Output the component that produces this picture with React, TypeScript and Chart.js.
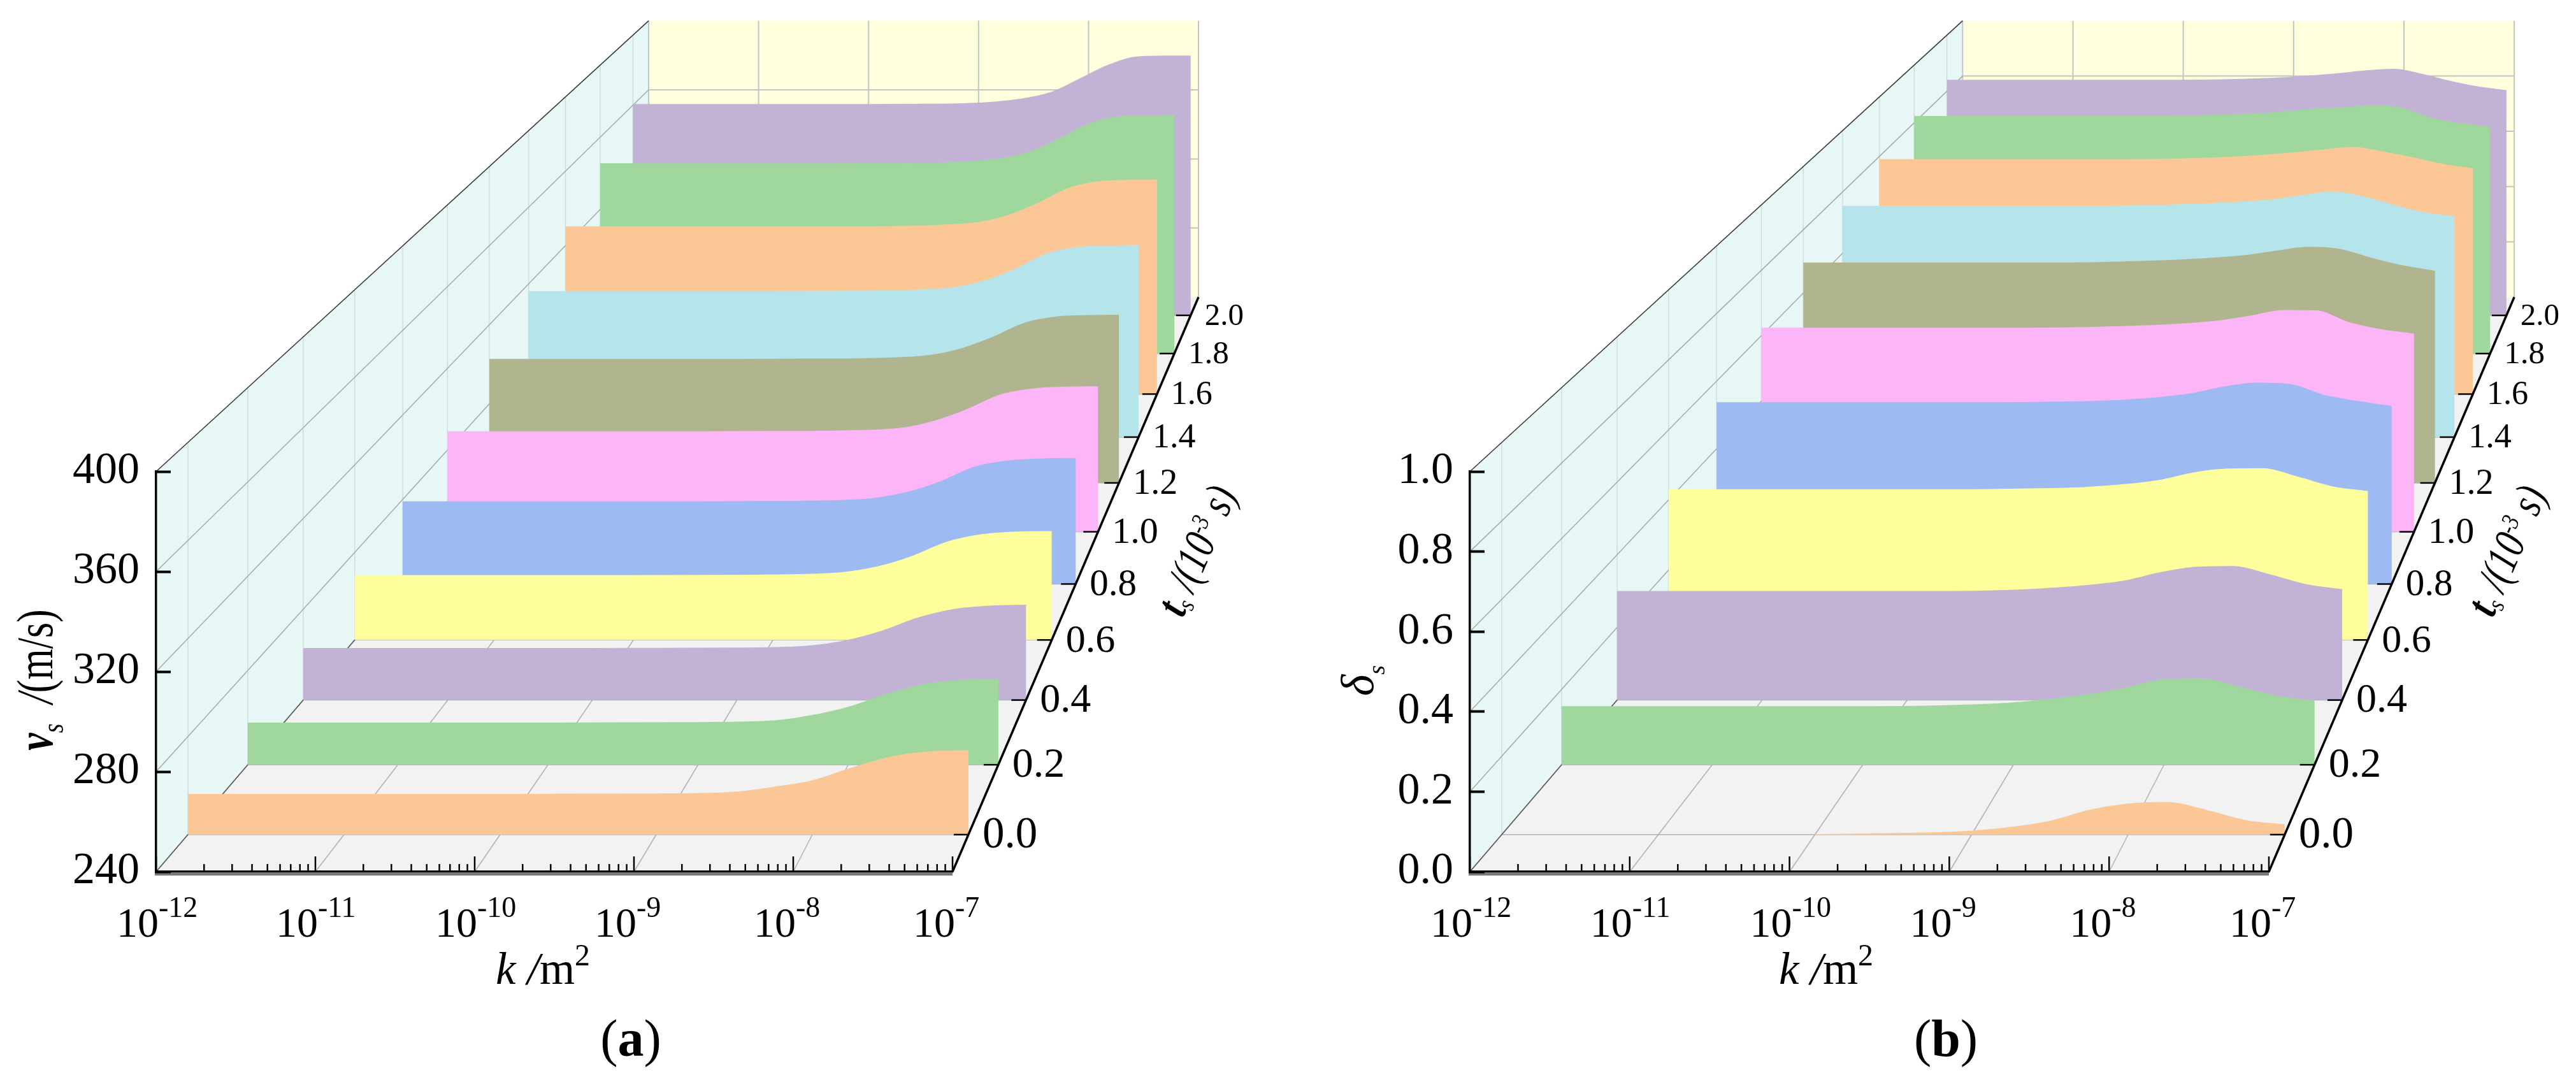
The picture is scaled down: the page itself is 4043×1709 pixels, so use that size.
import React, { useEffect, useRef } from "react";
import { Chart, registerables } from "chart.js";

Chart.register(...registerables);

const logK = [-12, -10, -9.5, -9, -8.5, -8.25, -8, -7.75, -7.5, -7.25, -7];
const depthT = [0, 0.2, 0.4, 0.6, 0.8, 1.0, 1.2, 1.4, 1.6, 1.8, 2.0];
const depthLabels = ["0.0", "0.2", "0.4", "0.6", "0.8", "1.0", "1.2", "1.4", "1.6", "1.8", "2.0"];
const decades = [-12, -11, -10, -9, -8, -7];
const decadeLabels = ["-12", "-11", "-10", "-9", "-8", "-7"];
const minorMultipliers = [2, 3, 4, 5, 6, 7, 8, 9];
const slabColors = ["#FBC797", "#9FD79C", "#C1B2D6", "#FEFE9D", "#9DBBF2", "#FCB5F7", "#B1B58F", "#B5E4EA", "#FBC797", "#9FD79C", "#C1B2D6"];

const vs00 = [256.4, 256.4, 256.5, 256.6, 257.3, 259.3, 262, 267.1, 271.6, 273.8, 274.3];
const vs02 = [257.7, 257.7, 257.8, 257.9, 258.6, 260.8, 264.4, 269.7, 274, 275.8, 276.2];
const vs04 = [262.7, 262.7, 262.8, 262.9, 263.8, 266.1, 270.3, 276.1, 279.9, 281.4, 281.8];
const vs06 = [269.4, 269.4, 269.5, 269.7, 270.8, 273.4, 278.2, 284.7, 288.1, 289.3, 289.5];
const vs08 = [278.9, 278.9, 279, 279.2, 280.5, 283.4, 288.5, 295.3, 298.2, 299.2, 299.4];
const vs10 = [289, 289, 289.1, 289.4, 290.8, 294.3, 300, 307, 309.9, 310.8, 311];
const vs12 = [302.5, 302.5, 302.6, 302.9, 304.5, 307.9, 313.7, 320.8, 323.9, 324.6, 324.8];
const vs14 = [316, 316, 316.1, 316.4, 318.2, 321.8, 328, 335.7, 339, 339.8, 340];
const vs16 = [330, 330, 330.1, 330.5, 332.5, 336.3, 342.9, 350.7, 354.3, 355.1, 355.3];
const vs18 = [345.3, 345.3, 345.4, 345.8, 348.2, 352, 359.2, 367.2, 371.2, 371.8, 372];
const vs20 = [360.4, 360.4, 360.5, 360.9, 363.7, 367.3, 374.8, 382.5, 387.4, 388, 388];

const ds00 = [null, 0, 0.003, 0.009, 0.034, 0.062, 0.078, 0.082, 0.062, 0.036, 0.025];
const ds02 = [0.154, 0.154, 0.156, 0.164, 0.186, 0.204, 0.226, 0.228, 0.205, 0.182, 0.169];
const ds04 = [0.299, 0.299, 0.3, 0.308, 0.328, 0.351, 0.366, 0.368, 0.345, 0.318, 0.304];
const ds06 = [0.429, 0.429, 0.431, 0.436, 0.455, 0.477, 0.488, 0.489, 0.465, 0.437, 0.424];
const ds08 = [0.536, 0.536, 0.538, 0.543, 0.562, 0.582, 0.594, 0.59, 0.558, 0.54, 0.525];
const ds10 = [0.623, 0.623, 0.625, 0.631, 0.645, 0.66, 0.677, 0.676, 0.64, 0.618, 0.605];
const ds12 = [0.695, 0.695, 0.698, 0.705, 0.719, 0.733, 0.745, 0.738, 0.71, 0.686, 0.669];
const ds14 = [0.753, 0.753, 0.756, 0.762, 0.774, 0.788, 0.8, 0.785, 0.757, 0.732, 0.72];
const ds16 = [0.789, 0.789, 0.791, 0.798, 0.812, 0.822, 0.83, 0.814, 0.795, 0.773, 0.759];
const ds18 = [0.822, 0.822, 0.825, 0.832, 0.848, 0.853, 0.86, 0.848, 0.815, 0.797, 0.784];
const ds20 = [0.839, 0.839, 0.841, 0.848, 0.863, 0.873, 0.878, 0.86, 0.835, 0.815, 0.802];

const velocitySeries = [vs00, vs02, vs04, vs06, vs08, vs10, vs12, vs14, vs16, vs18, vs20];
const deltaSeries = [ds00, ds02, ds04, ds06, ds08, ds10, ds12, ds14, ds16, ds18, ds20];
const velocityTicks = [240, 280, 320, 360, 400];
const deltaTicks = [0, 0.2, 0.4, 0.6, 0.8, 1.0];

const SERIF = '"Liberation Serif", "Times New Roman", serif';
const PAGE_H = 1709;
const FRONT_TOP = 740;
const FRONT_BOTTOM = 1368;
const PERSPECTIVE = 0.2038;
const T_MIN = -0.1;
const T_MAX = 2.1;

const scaleAt = (t: number) => 1 / (1 + PERSPECTIVE * (t - T_MIN));

type Panel = {
  id: string;
  left: number;
  width: number;
  frontLeft: number;
  frontRight: number;
  vanishLg: number;
  vanishVal: number;
  vMin: number;
  vMax: number;
  step: number;
  tickDigits: number;
  ticks: number[];
  series: (number | null)[][];
  draw: (ctx: CanvasRenderingContext2D) => void;
};

type Run = { text: string; font: string; dy?: number };

function drawRuns(ctx: CanvasRenderingContext2D, cx: number, cy: number, angle: number, runs: Run[], scaleY = 1) {
  ctx.save();
  ctx.translate(cx, cy);
  ctx.rotate(angle);
  ctx.scale(1, scaleY);
  ctx.textBaseline = "alphabetic";
  ctx.textAlign = "left";
  ctx.fillStyle = "#000";
  let total = 0;
  for (const r of runs) {
    ctx.font = r.font;
    total += ctx.measureText(r.text).width;
  }
  let x = -total / 2;
  for (const r of runs) {
    ctx.font = r.font;
    ctx.fillText(r.text, x, r.dy ?? 0);
    x += ctx.measureText(r.text).width;
  }
  ctx.restore();
}

function timeTitle(ctx: CanvasRenderingContext2D, cx: number, cy: number) {
  drawRuns(
    ctx,
    cx,
    cy,
    -1.16,
    [
      { text: "t", font: `italic bold 56px ${SERIF}` },
      { text: "s", font: `italic 32px ${SERIF}`, dy: 7 },
      { text: " /(10", font: `italic 56px ${SERIF}` },
      { text: "-3", font: `italic 32px ${SERIF}`, dy: -18 },
      { text: " s)", font: `italic 56px ${SERIF}` },
    ],
    1.25
  );
}

function kTitle(ctx: CanvasRenderingContext2D, cx: number) {
  drawRuns(ctx, cx, 1544, 0, [
    { text: "k", font: `italic 71px ${SERIF}` },
    { text: " /", font: `italic 71px ${SERIF}` },
    { text: "m", font: `71px ${SERIF}` },
    { text: "2", font: `48px ${SERIF}`, dy: -29 },
  ]);
}

const panelA: Panel = {
  id: "a",
  left: 0,
  width: 2020,
  frontLeft: 245,
  frontRight: 1495,
  vanishLg: -2.012,
  vanishVal: 982.2,
  vMin: 240,
  vMax: 400,
  step: 40,
  tickDigits: 0,
  ticks: velocityTicks,
  series: velocitySeries,
  draw(ctx) {
    drawRuns(
      ctx,
      82,
      1067,
      -Math.PI / 2,
      [
        { text: "v", font: `italic bold 62px ${SERIF}` },
        { text: "s", font: `italic 38px ${SERIF}`, dy: 13 },
        { text: "  /", font: `italic 62px ${SERIF}` },
        { text: "(m/s)", font: `62px ${SERIF}` },
      ],
      1.3
    );
    kTitle(ctx, 852);
    timeTitle(ctx, 1899, 873);
    drawRuns(ctx, 990, 1657, 0, [
      { text: "(", font: `82px ${SERIF}` },
      { text: "a", font: `bold 82px ${SERIF}` },
      { text: ")", font: `82px ${SERIF}` },
    ]);
  },
};

const panelB: Panel = {
  id: "b",
  left: 2020,
  width: 2023,
  frontLeft: 287,
  frontRight: 1541,
  vanishLg: -2.04,
  vanishVal: 4.6385,
  vMin: 0,
  vMax: 1,
  step: 0.2,
  tickDigits: 1,
  ticks: deltaTicks,
  series: deltaSeries,
  draw(ctx) {
    drawRuns(ctx, 135, 1068, -Math.PI / 2, [
      { text: "δ", font: `italic 72px ${SERIF}` },
      { text: "s", font: `italic 38px ${SERIF}`, dy: 18 },
    ]);
    kTitle(ctx, 846);
    timeTitle(ctx, 1935, 873);
    drawRuns(ctx, 1034, 1657, 0, [
      { text: "(", font: `82px ${SERIF}` },
      { text: "b", font: `bold 82px ${SERIF}` },
      { text: ")", font: `82px ${SERIF}` },
    ]);
  },
};

function projectPoint(p: Panel, lg: number, t: number, val: number | null) {
  const s = scaleAt(t);
  return {
    x: Math.pow(10, p.vanishLg + (lg - p.vanishLg) * s),
    y: val === null ? null : p.vanishVal + (val - p.vanishVal) * s,
  };
}

function makePlugin(p: Panel) {
  const toPx = (chart: any, lg: number, t: number, val: number): [number, number] => {
    const q = projectPoint(p, lg, t, val);
    return [chart.scales.x.getPixelForValue(q.x), chart.scales.y.getPixelForValue(q.y)];
  };
  const poly = (ctx: CanvasRenderingContext2D, pts: [number, number][], color: string) => {
    ctx.beginPath();
    pts.forEach(([x, y], i) => (i ? ctx.lineTo(x, y) : ctx.moveTo(x, y)));
    ctx.closePath();
    ctx.fillStyle = color;
    ctx.fill();
  };
  const seg = (ctx: CanvasRenderingContext2D, a: [number, number], b: [number, number], color: string, w: number) => {
    ctx.beginPath();
    ctx.moveTo(a[0], a[1]);
    ctx.lineTo(b[0], b[1]);
    ctx.strokeStyle = color;
    ctx.lineWidth = w;
    ctx.stroke();
  };
  const GRID = "#c4c4c4";
  const GRID_FLOOR = "#b0b0b0";
  return {
    id: "pseudo3d-" + p.id,
    beforeDraw(chart: any) {
      const ctx = chart.ctx;
      ctx.save();
      const P = (lg: number, t: number, val: number) => toPx(chart, lg, t, val);
      poly(ctx, [P(-12, T_MIN, p.vMin), P(-7, T_MIN, p.vMin), P(-7, T_MAX, p.vMin), P(-12, T_MAX, p.vMin)], "#F2F2F2");
      poly(ctx, [P(-12, T_MIN, p.vMin), P(-12, T_MAX, p.vMin), P(-12, T_MAX, p.vMax), P(-12, T_MIN, p.vMax)], "#E6F7F6");
      poly(ctx, [P(-12, T_MAX, p.vMin), P(-7, T_MAX, p.vMin), P(-7, T_MAX, p.vMax), P(-12, T_MAX, p.vMax)], "#FFFFDD");
      for (const e of decades) {
        seg(ctx, P(e, T_MIN, p.vMin), P(e, T_MAX, p.vMin), GRID_FLOOR, 1.5);
        seg(ctx, P(e, T_MAX, p.vMin), P(e, T_MAX, p.vMax), GRID, 2);
      }
      for (const t of depthT) {
        seg(ctx, P(-12, t, p.vMin), P(-7, t, p.vMin), GRID_FLOOR, 1.5);
        seg(ctx, P(-12, t, p.vMin), P(-12, t, p.vMax), "#cfdcdc", 1.5);
      }
      for (const v of p.ticks) {
        if (v === p.vMin || v === p.vMax) continue;
        seg(ctx, P(-12, T_MIN, v), P(-12, T_MAX, v), "#a8a8a8", 1.5);
        seg(ctx, P(-12, T_MAX, v), P(-7, T_MAX, v), GRID, 2);
      }
      seg(ctx, P(-12, T_MIN, p.vMin), P(-12, T_MAX, p.vMin), "#555", 1.5);
      seg(ctx, P(-12, T_MIN, p.vMax), P(-12, T_MAX, p.vMax), "#333", 1.5);
      ctx.restore();
    },
    beforeDatasetDraw(chart: any, args: any) {
      const meta = chart.getDatasetMeta(args.index);
      const ds = chart.data.datasets[args.index];
      const ctx = chart.ctx;
      const right = toPx(chart, -7, ds.depth, p.vMin);
      const left = toPx(chart, -12, ds.depth, p.vMin);
      ctx.save();
      ctx.beginPath();
      meta.dataset.path(ctx);
      ctx.lineTo(right[0], right[1]);
      ctx.lineTo(left[0], left[1]);
      ctx.closePath();
      ctx.fillStyle = ds.backgroundColor;
      ctx.fill();
      ctx.restore();
    },
    afterDatasetsDraw(chart: any) {
      const ctx = chart.ctx;
      const x = chart.scales.x;
      const top = chart.chartArea.bottom;
      ctx.save();
      seg(ctx, [chart.chartArea.left - 2, top + 4], [chart.chartArea.right, top + 4], "#7a7a7a", 4);
      seg(ctx, toPx(chart, -7, T_MIN, p.vMin), toPx(chart, -7, T_MAX, p.vMin), "#000", 3.5);
      decades.forEach((e, i) => {
        const px = x.getPixelForValue(Math.pow(10, e));
        seg(ctx, [px, top], [px, top - 24], "#000", 2.5);
        if (i < decades.length - 1) {
          for (const m of minorMultipliers) {
            const mx = x.getPixelForValue(m * Math.pow(10, e));
            seg(ctx, [mx, top], [mx, top - 12], "#000", 2.5);
          }
        }
        ctx.fillStyle = "#000";
        ctx.textBaseline = "alphabetic";
        ctx.textAlign = "left";
        ctx.font = `66px ${SERIF}`;
        ctx.fillText("10", px - 62, 1470);
        const w = ctx.measureText("10").width;
        ctx.font = `46px ${SERIF}`;
        ctx.fillText(decadeLabels[i], px - 62 + w, 1439);
      });
      depthT.forEach((t, i) => {
        const edge = toPx(chart, -7, t, p.vMin);
        seg(ctx, [edge[0] - 23, edge[1]], edge, "#000", 2.5);
        const size = Math.round((69 * scaleAt(t)) / 0.98);
        ctx.fillStyle = "#000";
        ctx.textBaseline = "middle";
        ctx.textAlign = "left";
        ctx.font = `${size}px ${SERIF}`;
        ctx.fillText(depthLabels[i], edge[0] + 22, edge[1] + 2);
      });
      p.draw(ctx);
      ctx.restore();
    },
  };
}

function PanelChart({ panel }: { panel: Panel }) {
  const ref = useRef<HTMLCanvasElement | null>(null);
  useEffect(() => {
    if (!ref.current) return;
    const datasets = panel.series.map((vals, i) => ({
      label: "t = " + depthLabels[i],
      depth: depthT[i],
      data: logK.map((lg, j) => projectPoint(panel, lg, depthT[i], vals[j])),
      borderColor: slabColors[i],
      backgroundColor: slabColors[i],
      borderWidth: 1.5,
      pointRadius: 0,
      cubicInterpolationMode: "monotone",
      clip: false,
      order: i,
    }));
    const chart = new Chart(ref.current, {
      type: "line",
      data: { datasets } as any,
      plugins: [makePlugin(panel)],
      options: {
        animation: false,
        responsive: false,
        devicePixelRatio: 1,
        layout: { padding: { top: FRONT_TOP, right: panel.width - panel.frontRight, left: 0, bottom: 0 } },
        elements: { line: { capBezierPoints: false } },
        plugins: { legend: { display: false }, tooltip: { enabled: false } },
        scales: {
          x: {
            type: "logarithmic",
            afterDataLimits(scale: any) {
              scale.min = 1e-12;
              scale.max = 1e-7;
            },
            afterFit(scale: any) {
              scale.height = PAGE_H - FRONT_BOTTOM;
            },
            ticks: { display: false },
            grid: { display: false, drawTicks: false },
            border: { display: true, color: "#000", width: 3.5, z: 1 },
          },
          y: {
            type: "linear",
            min: panel.vMin,
            max: panel.vMax,
            afterFit(scale: any) {
              scale.width = panel.frontLeft;
            },
            ticks: {
              stepSize: panel.step,
              padding: 49,
              maxRotation: 0,
              autoSkip: false,
              color: "#000",
              font: { family: SERIF, size: 70 },
              z: 1,
              callback: (v: any) => Number(v).toFixed(panel.tickDigits),
            },
            grid: { drawOnChartArea: false, drawTicks: true, tickLength: -23, tickWidth: 4, tickColor: "#000", z: 1 },
            border: { display: true, color: "#000", width: 3.5, z: 1 },
          },
        },
      } as any,
    });
    return () => chart.destroy();
  }, [panel]);
  return (
    <canvas
      ref={ref}
      width={panel.width}
      height={PAGE_H}
      style={{ position: "absolute", left: panel.left, top: 0, width: panel.width, height: PAGE_H, display: "block" }}
    />
  );
}

export default function App() {
  useEffect(() => {
    document.body.style.margin = "0";
    document.body.style.background = "#fff";
  }, []);
  return (
    <div style={{ position: "absolute", left: 0, top: 0, width: 4043, height: PAGE_H, background: "#fff", overflow: "hidden" }}>
      <PanelChart panel={panelA} />
      <PanelChart panel={panelB} />
    </div>
  );
}
